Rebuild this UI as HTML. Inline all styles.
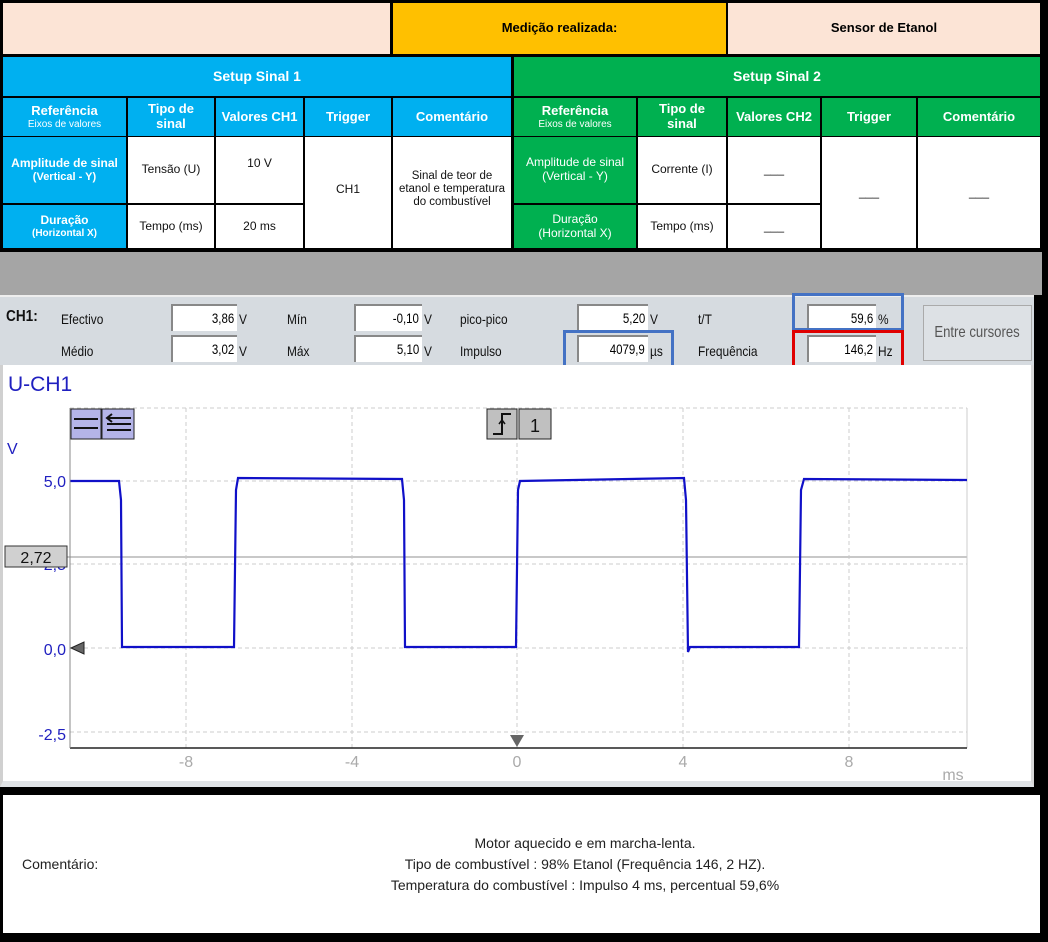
<!DOCTYPE html>
<html><head><meta charset="utf-8"><style>
*{margin:0;padding:0;box-sizing:border-box}
body{width:1048px;height:942px;background:#000;position:relative;overflow:hidden;font-family:"Liberation Sans",sans-serif}
.a{position:absolute;display:flex;align-items:center;justify-content:center;text-align:center;line-height:1.15}
.b{font-weight:bold;color:#fff}
.w{background:#fff;color:#111;font-size:12px}
.blue{background:#00b0f0}.green{background:#00b050}
.sm{font-size:10px;font-weight:normal}
.p{position:absolute;font-size:14px;color:#111;transform:scaleX(.85);transform-origin:left}
.box{position:absolute;background:#fff;border-top:2px solid #888;border-left:2px solid #888;height:27px;font-size:14px;text-align:right;padding-right:3px;line-height:25px}
.box span{display:inline-block;transform:scaleX(.82);transform-origin:right}
</style></head><body>
<div class="a" style="left:3px;top:3px;width:387px;height:51px;background:#fce4d6"></div>
<div class="a" style="left:393px;top:3px;width:333px;height:51px;background:#ffc000;font-size:13px;font-weight:bold">Medição realizada:</div>
<div class="a" style="left:728px;top:3px;width:312px;height:51px;background:#fce4d6;font-size:13px;font-weight:bold">Sensor de Etanol</div>
<div class="a blue b" style="left:3px;top:57px;width:508px;height:39px;font-size:14px">Setup Sinal 1</div>
<div class="a blue b" style="left:3px;top:98px;width:123px;height:38px;font-size:13px;flex-direction:column">Referência<span class="sm">Eixos de valores</span></div>
<div class="a blue b" style="left:128px;top:98px;width:86px;height:38px;font-size:13px">Tipo de<br>sinal</div>
<div class="a blue b" style="left:216px;top:98px;width:87px;height:38px;font-size:13px">Valores CH1</div>
<div class="a blue b" style="left:305px;top:98px;width:86px;height:38px;font-size:13px">Trigger</div>
<div class="a blue b" style="left:393px;top:98px;width:118px;height:38px;font-size:13px">Comentário</div>
<div class="a blue b" style="left:3px;top:137px;width:123px;height:66px;font-size:12px;flex-direction:column">Amplitude de sinal<span style="font-size:11px">(Vertical - Y)</span></div>
<div class="a blue b" style="left:3px;top:205px;width:123px;height:43px;font-size:12px;flex-direction:column">Duração<span style="font-size:10px">(Horizontal X)</span></div>
<div class="a w" style="left:128px;top:137px;width:86px;height:66px">Tensão (U)</div>
<div class="a w" style="left:216px;top:137px;width:87px;height:66px;padding-bottom:12px">10 V</div>
<div class="a w" style="left:128px;top:205px;width:86px;height:43px">Tempo (ms)</div>
<div class="a w" style="left:216px;top:205px;width:87px;height:43px">20 ms</div>
<div class="a w" style="left:305px;top:137px;width:86px;height:111px;padding-bottom:6px">CH1</div>
<div class="a w" style="left:393px;top:137px;width:118px;height:111px;font-size:11.5px;padding-bottom:6px">Sinal de teor de<br>etanol e temperatura<br>do combustível</div>
<div class="a green b" style="left:514px;top:57px;width:526px;height:39px;font-size:14px">Setup Sinal 2</div>
<div class="a green b" style="left:514px;top:98px;width:122px;height:38px;font-size:13px;flex-direction:column">Referência<span class="sm">Eixos de valores</span></div>
<div class="a green b" style="left:638px;top:98px;width:88px;height:38px;font-size:13px">Tipo de<br>sinal</div>
<div class="a green b" style="left:728px;top:98px;width:92px;height:38px;font-size:13px">Valores CH2</div>
<div class="a green b" style="left:822px;top:98px;width:94px;height:38px;font-size:13px">Trigger</div>
<div class="a green b" style="left:918px;top:98px;width:122px;height:38px;font-size:13px">Comentário</div>
<div class="a green b" style="left:514px;top:137px;width:122px;height:66px;font-size:12px;font-weight:normal">Amplitude de sinal<br>(Vertical - Y)</div>
<div class="a green b" style="left:514px;top:205px;width:122px;height:43px;font-size:12px;font-weight:normal">Duração<br>(Horizontal X)</div>
<div class="a w" style="left:638px;top:137px;width:88px;height:66px">Corrente (I)</div>
<div class="a w" style="left:728px;top:137px;width:92px;height:66px">___</div>
<div class="a w" style="left:638px;top:205px;width:88px;height:43px">Tempo (ms)</div>
<div class="a w" style="left:728px;top:205px;width:92px;height:43px">___</div>
<div class="a w" style="left:822px;top:137px;width:94px;height:111px">___</div>
<div class="a w" style="left:918px;top:137px;width:122px;height:111px">___</div>
<div style="position:absolute;left:0;top:252px;width:1042px;height:43px;background:#a5a5a5"></div>
<div style="position:absolute;left:0;top:295px;width:1034px;height:70px;background:#d6dbe0;border-top:2px solid #eee"></div>
<div class="p" style="left:6px;top:308px;font-weight:bold;font-size:16px">CH1:</div>
<div class="p" style="left:61px;top:311px">Efectivo</div>
<div class="p" style="left:61px;top:343px">Médio</div>
<div class="box" style="left:171px;top:304px;width:66px"><span>3,86</span></div><div class="p" style="left:239px;top:311px">V</div>
<div class="box" style="left:171px;top:335px;width:66px"><span>3,02</span></div><div class="p" style="left:239px;top:343px">V</div>
<div class="p" style="left:287px;top:311px">Mín</div><div class="p" style="left:287px;top:343px">Máx</div>
<div class="box" style="left:354px;top:304px;width:68px"><span>-0,10</span></div><div class="p" style="left:424px;top:311px">V</div>
<div class="box" style="left:354px;top:335px;width:68px"><span>5,10</span></div><div class="p" style="left:424px;top:343px">V</div>
<div class="p" style="left:460px;top:311px">pico-pico</div><div class="p" style="left:460px;top:343px">Impulso</div>
<div class="box" style="left:577px;top:304px;width:71px"><span>5,20</span></div><div class="p" style="left:650px;top:311px">V</div>
<div class="box" style="left:577px;top:335px;width:71px"><span>4079,9</span></div><div class="p" style="left:650px;top:343px">µs</div>
<div style="position:absolute;left:563px;top:330px;width:111px;height:38px;border:3px solid #4472c4"></div>
<div class="p" style="left:698px;top:311px">t/T</div><div class="p" style="left:698px;top:343px">Frequência</div>
<div class="box" style="left:807px;top:304px;width:69px"><span>59,6</span></div><div class="p" style="left:878px;top:311px">%</div>
<div class="box" style="left:807px;top:335px;width:69px"><span>146,2</span></div><div class="p" style="left:878px;top:343px">Hz</div>
<div style="position:absolute;left:792px;top:293px;width:112px;height:38px;border:3px solid #4472c4"></div>
<div style="position:absolute;left:792px;top:330px;width:112px;height:38px;border:3px solid #e00000"></div>
<div class="a" style="left:923px;top:305px;width:109px;height:56px;background:#dde1e5;border:1px solid #aaa;font-size:16px;color:#555"><span style="transform:scaleX(.82);white-space:nowrap">Entre cursores</span></div>
<div style="position:absolute;left:0;top:365px;width:1034px;height:422px;background:#fff;border-left:3px solid #d0d0d0;border-right:3px solid #d8d8d8;border-bottom:6px solid #e0e3e6"></div>
<svg style="position:absolute;left:0;top:0" width="1048" height="942">
<g stroke="#ccc" stroke-dasharray="4,3" stroke-width="1">
<line x1="70" y1="408" x2="967" y2="408"/><line x1="70" y1="481" x2="967" y2="481"/><line x1="70" y1="564" x2="967" y2="564"/><line x1="70" y1="648" x2="967" y2="648"/><line x1="70" y1="732" x2="967" y2="732"/>
<line x1="186" y1="408" x2="186" y2="748"/><line x1="352" y1="408" x2="352" y2="748"/><line x1="517" y1="408" x2="517" y2="748"/><line x1="683" y1="408" x2="683" y2="748"/><line x1="849" y1="408" x2="849" y2="748"/>
<line x1="967" y1="408" x2="967" y2="748" stroke-dasharray="none"/>
</g>
<line x1="67" y1="557" x2="967" y2="557" stroke="#c8c8c8" stroke-width="2"/>
<polyline fill="none" stroke="#1010c8" stroke-width="2.2" points="70,481 119,481 121,500 122,647 234,647 236,490 238,478 402,479 404,500 405,647 516,647 518,490 520,481 684,478 686,500 688,652 690,647 799,647 801,490 804,479 967,480"/>
<line x1="70" y1="748" x2="967" y2="748" stroke="#222" stroke-width="1.5"/>
<line x1="70" y1="408" x2="70" y2="748" stroke="#888" stroke-width="1"/>
<g font-family="Liberation Sans" font-size="16" fill="#2020c0" text-anchor="end">
<text x="66" y="487">5,0</text><text x="66" y="570">2,5</text><text x="66" y="655">0,0</text><text x="66" y="740">-2,5</text></g>
<text x="7" y="454" font-family="Liberation Sans" font-size="16" fill="#2020c0">V</text>
<text x="8" y="391" font-family="Liberation Sans" font-size="21" fill="#2020c0">U-CH1</text>
<g font-family="Liberation Sans" font-size="16" fill="#aaa" text-anchor="middle">
<text x="186" y="767">-8</text><text x="352" y="767">-4</text><text x="517" y="767">0</text><text x="683" y="767">4</text><text x="849" y="767">8</text></g>
<text x="953" y="780" font-family="Liberation Sans" font-size="16" fill="#aaa" text-anchor="middle">ms</text>
<rect x="5" y="546" width="62" height="21" fill="#d0d0d0" stroke="#333"/>
<text x="36" y="563" font-family="Liberation Sans" font-size="16" fill="#111" text-anchor="middle">2,72</text>
<polygon points="71,648 84,642 84,654" fill="#666" stroke="#222"/>
<polygon points="510,735 524,735 517,747" fill="#666"/>
<rect x="71" y="409" width="30" height="30" fill="#b4b4e8" stroke="#222"/><rect x="102" y="409" width="32" height="30" fill="#b4b4e8" stroke="#222"/>
<path d="M74 419h24M74 428h24M107 418h24M107 424h24M107 430h24M112 414l-5 4 5 4" stroke="#111" stroke-width="2" fill="none"/>
<rect x="487" y="409" width="30" height="30" fill="#c0c0c0" stroke="#222"/><rect x="519" y="409" width="32" height="30" fill="#c0c0c0" stroke="#222"/>
<path d="M493 434h9v-20h9" stroke="#111" stroke-width="2" fill="none"/><path d="M502 430v-10l-3 4m3-4l3 4" stroke="#111" stroke-width="1.5" fill="none"/>
<text x="535" y="432" font-family="Liberation Sans" font-size="18" fill="#111" text-anchor="middle">1</text>
</svg>
<div style="position:absolute;left:3px;top:795px;width:1037px;height:138px;background:#fff"></div>
<div style="position:absolute;left:22px;top:856px;font-size:14px;color:#222">Comentário:</div>
<div style="position:absolute;left:285px;top:833px;width:600px;text-align:center;font-size:14px;line-height:21px;color:#222">Motor aquecido e em marcha-lenta.<br>Tipo de combustível : 98% Etanol (Frequência 146, 2 HZ).<br>Temperatura do combustível : Impulso 4 ms, percentual 59,6%</div>
</body></html>
